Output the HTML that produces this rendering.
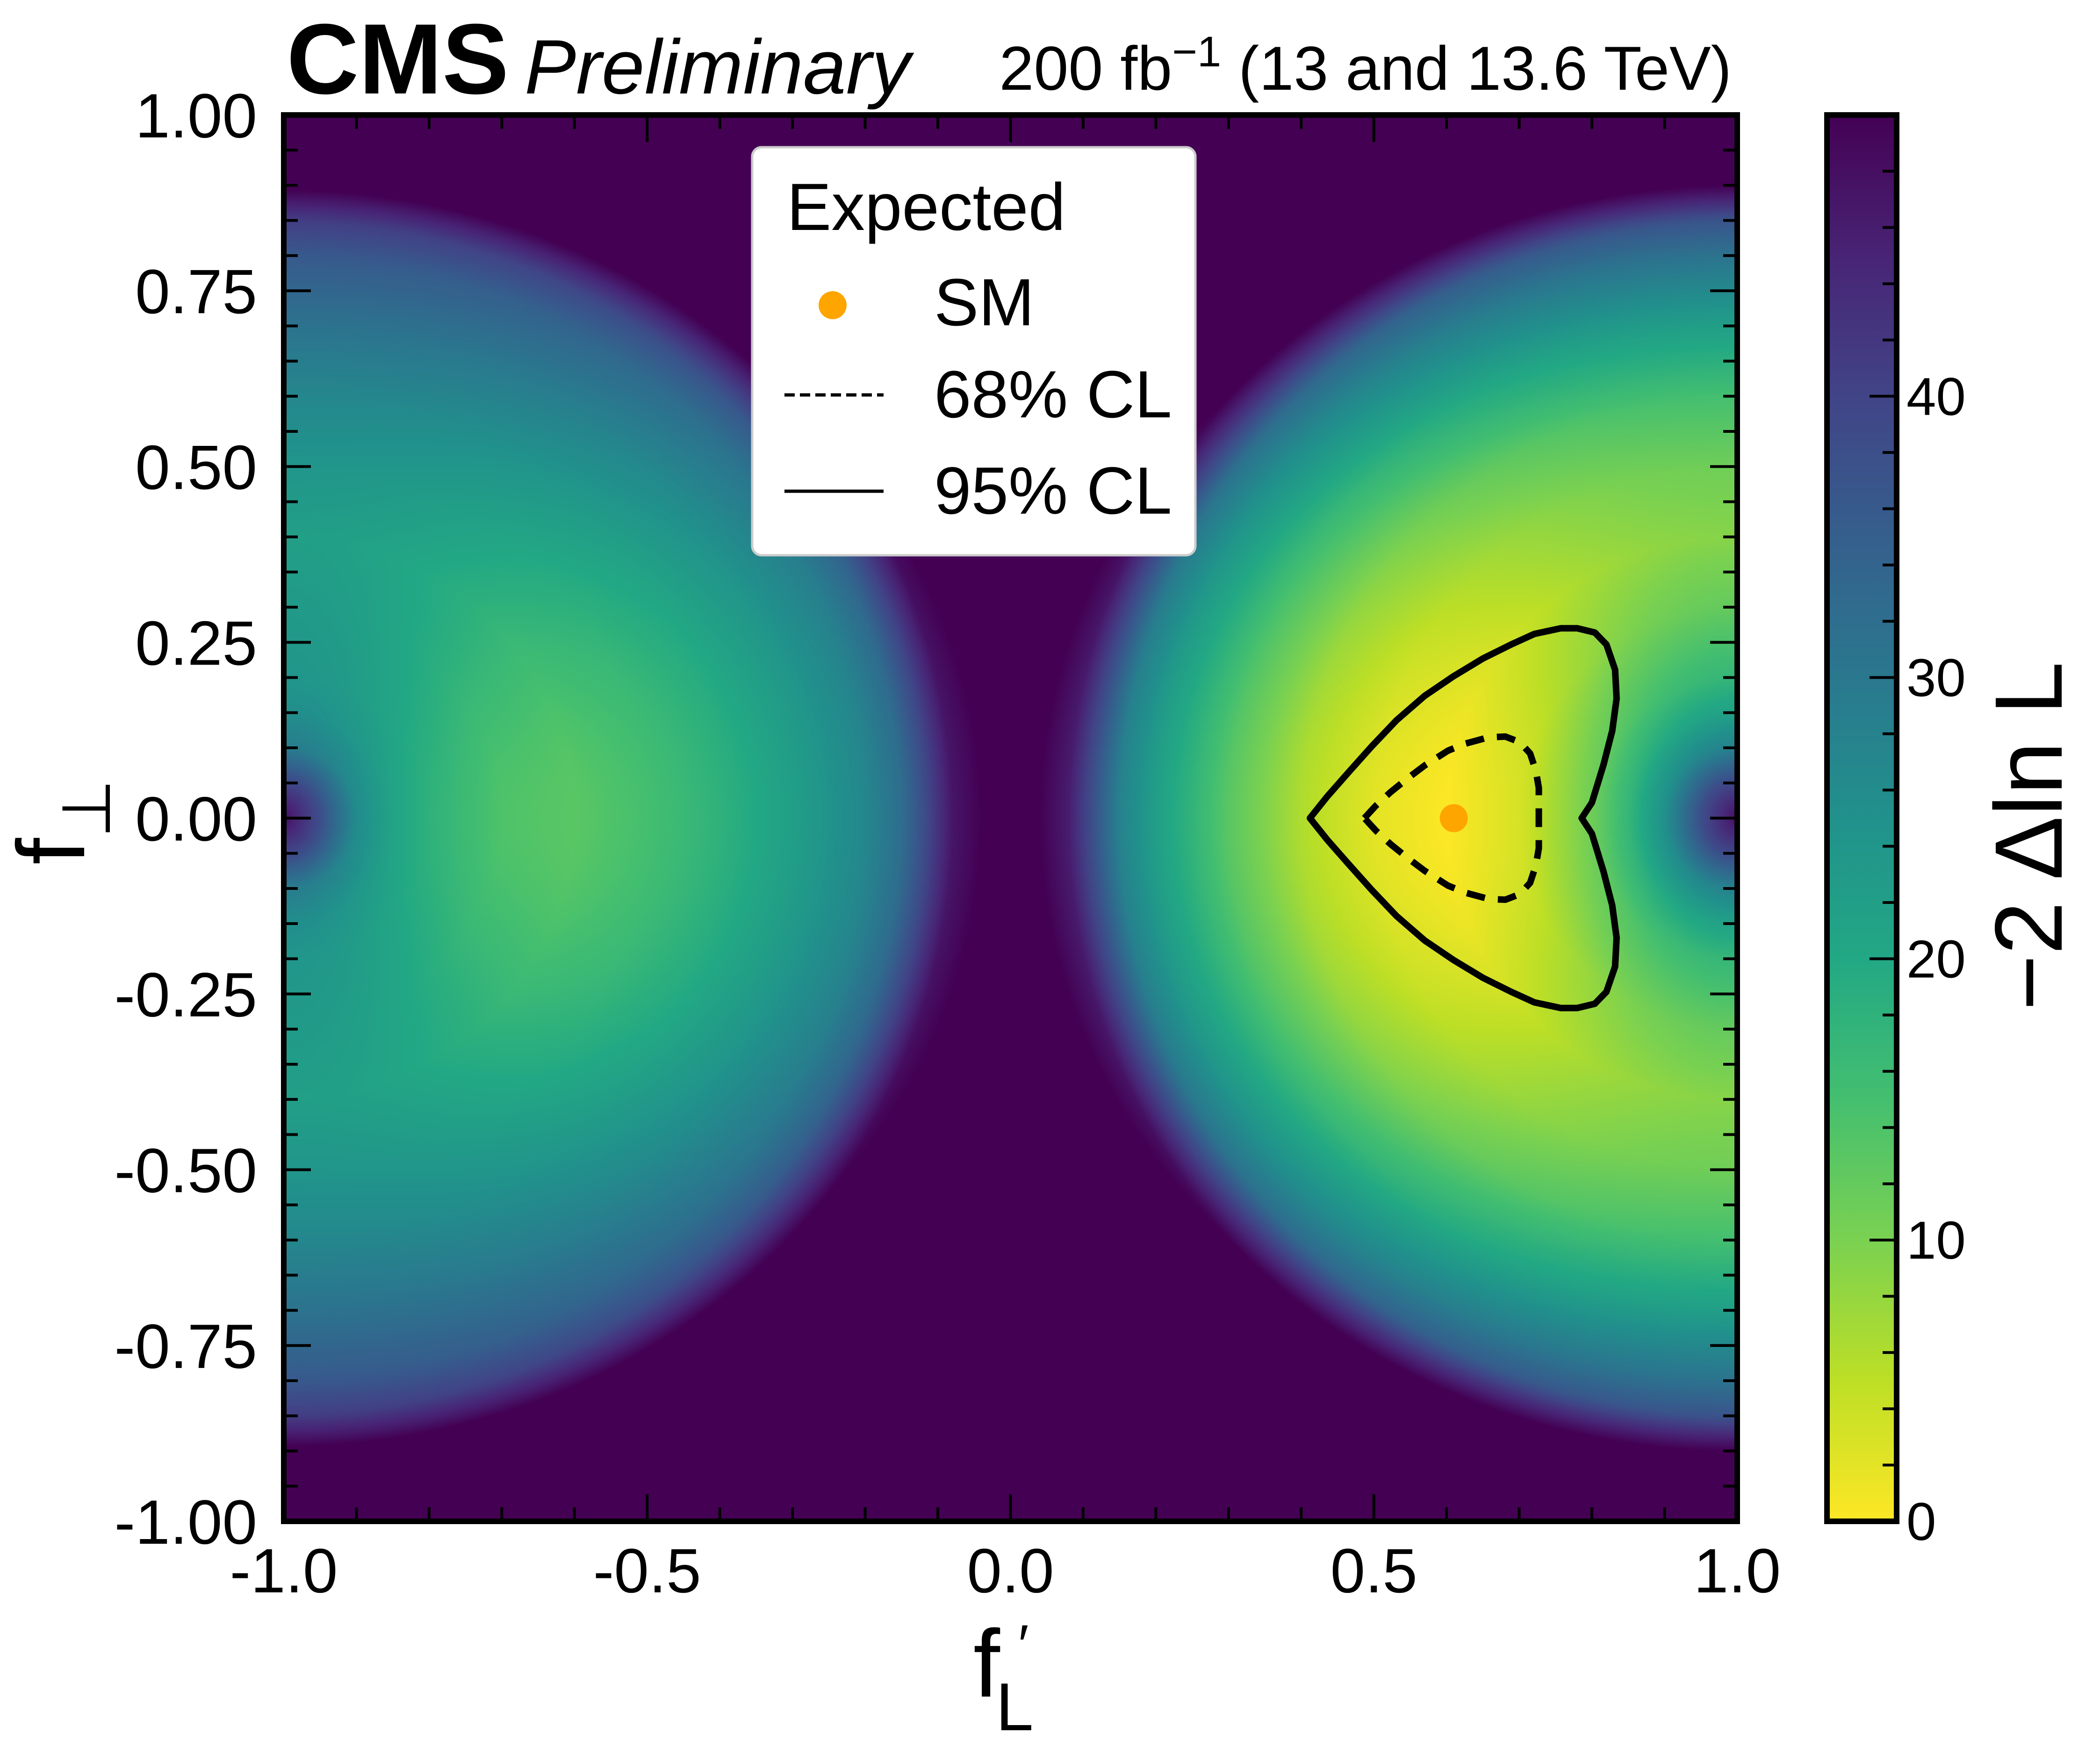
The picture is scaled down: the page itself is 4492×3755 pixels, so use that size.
<!DOCTYPE html>
<html><head><meta charset="utf-8"><style>
html,body{margin:0;padding:0;background:#fff;}
#wrap{position:relative;width:4492px;height:3755px;overflow:hidden;}
#heat{position:absolute;left:607px;top:246px;width:3109px;height:3009px;}
svg{position:absolute;left:0;top:0;}
text{font-family:"Liberation Sans",sans-serif;}
</style></head><body>
<div id="wrap">
<canvas id="heat" width="777" height="752"></canvas>
<svg id="svg" width="4492" height="3755" xmlns="http://www.w3.org/2000/svg">
<defs>
<linearGradient id="cbgrad" x1="0" y1="1" x2="0" y2="0">
<stop offset="0" stop-color="#fde725"/><stop offset="0.1" stop-color="#bddf26"/><stop offset="0.2" stop-color="#7ad151"/><stop offset="0.3" stop-color="#44bf70"/><stop offset="0.4" stop-color="#22a884"/><stop offset="0.5" stop-color="#21918c"/><stop offset="0.6" stop-color="#2a788e"/><stop offset="0.7" stop-color="#355f8d"/><stop offset="0.8" stop-color="#414487"/><stop offset="0.9" stop-color="#482475"/><stop offset="1" stop-color="#440154"/>
</linearGradient>
</defs>
<g id="contours"></g>
<g id="axes"></g>
<rect x="3908" y="246" width="149" height="3009" fill="url(#cbgrad)" stroke="#000" stroke-width="12"/>
<g id="cbaxis"></g>
<text x="613" y="200" font-size="214" font-weight="bold">CMS</text>
<text x="1122" y="200" font-size="165" font-style="italic">Preliminary</text>
<text x="3704" y="192" font-size="133" text-anchor="end">200 fb<tspan dy="-50" font-size="92">−1</tspan><tspan dy="50"> (13 and 13.6 TeV)</tspan></text>
<g>
<text x="2082" y="3630" font-size="205">f</text>
<text x="2178" y="3560" font-size="120">′</text>
<text x="2130" y="3702" font-size="145">L</text>
</g>
<text transform="translate(180,1850) rotate(-90)" font-size="205">f<tspan dy="55" font-size="145">⊥</tspan></text>
<text transform="translate(4410,1789) rotate(-90)" font-size="205" text-anchor="middle">−2 Δln L</text>
<g>
<rect x="1609" y="315" width="948" height="873" rx="20" fill="#fff" stroke="#cccccc" stroke-width="5"/>
<text x="1683" y="492" font-size="143">Expected</text>
<circle cx="1781" cy="653" r="30" fill="#ffa500"/>
<text x="1998" y="696" font-size="143">SM</text>
<line x1="1678" y1="845" x2="1890" y2="845" stroke="#000" stroke-width="7" stroke-dasharray="22,11"/>
<text x="1998" y="893" font-size="143">68% CL</text>
<line x1="1678" y1="1051" x2="1890" y2="1051" stroke="#000" stroke-width="7"/>
<text x="1998" y="1099" font-size="143">95% CL</text>
</g>
</svg>
</div>
<script>
// ---- data ----
const radii = [0,0.05,0.1,0.15,0.2,0.3,0.4,0.5,0.6,0.7,0.8,0.85,0.88,0.92,0.96];
const rightProfile = [48,38,25,17,11,3,0,2,6,13,22,28,36,46,50];
const leftProfile = [48,38,26,21,18,14,13,15,18,22,27,32,38,47,50];
const angularBoost = [9];
const cl95X = [0.412,0.436,0.465,0.497,0.531,0.570,0.610,0.650,0.689,0.721,0.757,0.780,0.804,0.820,0.832,0.834,0.828,0.816,0.800,0.786];
const cl95Y = [0,0.031,0.065,0.102,0.139,0.174,0.202,0.227,0.247,0.262,0.270,0.270,0.264,0.247,0.211,0.170,0.124,0.076,0.022,0];
const cl68X = [0.487,0.503,0.523,0.547,0.570,0.602,0.626,0.658,0.681,0.701,0.715,0.723,0.727,0.727];
const cl68Y = [0,0.018,0.037,0.057,0.075,0.096,0.106,0.115,0.116,0.108,0.092,0.067,0.043,0];
const smPoint = [0.61, 0.0];
const xTicks = [-1.0,-0.5,0.0,0.5,1.0];
const xTickLabels = ["-1.0","-0.5","0.0","0.5","1.0"];
const yTicks = [1.0,0.75,0.5,0.25,0,-0.25,-0.5,-0.75,-1.0];
const yTickLabels = ["1.00","0.75","0.50","0.25","0.00","-0.25","-0.50","-0.75","-1.00"];
const cbTicks = [0,10,20,30,40];
const cbTickLabels = ["0","10","20","30","40"];
const zMax = 50;

// ---- axes ----
const L=607,R=3716,T=246,B=3255;
const sx = v => L + (v+1)/2*(R-L);
const sy = v => T + (1-v)/2*(B-T);
const cbY = v => B - v/zMax*(B-T);
const NS="http://www.w3.org/2000/svg";
function mk(tag, attrs, parent){const e=document.createElementNS(NS,tag);for(const k in attrs)e.setAttribute(k,attrs[k]);parent.appendChild(e);return e;}

// heatmap
const vir=[[68,1,84],[72,36,117],[65,68,135],[53,95,141],[42,120,142],[33,145,140],[34,168,132],[68,191,112],[122,209,81],[189,223,38],[253,231,37]];
function cmap(v){let t=1-Math.max(0,Math.min(zMax,v))/zMax;let p=t*10,i=Math.min(9,Math.floor(p)),f=p-i;const a=vir[i],b=vir[i+1];return [a[0]+(b[0]-a[0])*f,a[1]+(b[1]-a[1])*f,a[2]+(b[2]-a[2])*f];}
function interp(xs,ys,x){if(x<=xs[0])return ys[0];for(let i=1;i<xs.length;i++){if(x<=xs[i]){const f=(x-xs[i-1])/(xs[i]-xs[i-1]);return ys[i-1]+(ys[i]-ys[i-1])*f;}}return ys[ys.length-1];}
function value(x,y){
  const right = x>=-0.03;
  const cx = right?1:-1;
  const dx=x-cx, r=Math.sqrt(dx*dx+y*y);
  const s2 = r>0? (y*y)/(r*r):0;
  return interp(radii, right?rightProfile:leftProfile, r) + angularBoost[0]*s2*Math.min(1,r/0.3);
}
const cv=document.getElementById('heat'),ctx=cv.getContext('2d');
const W=cv.width,H=cv.height,img=ctx.createImageData(W,H);
for(let j=0;j<H;j++){const y=1-(j+0.5)/H*2;for(let i=0;i<W;i++){const x=-1+(i+0.5)/W*2;const c=cmap(value(x,y));const k=(j*W+i)*4;img.data[k]=c[0];img.data[k+1]=c[1];img.data[k+2]=c[2];img.data[k+3]=255;}}
ctx.putImageData(img,0,0);

// contours
const cg=document.getElementById('contours');
function closedPath(xs,ys){let pts=[];for(let i=0;i<xs.length;i++)pts.push([xs[i],ys[i]]);for(let i=xs.length-2;i>0;i--)pts.push([xs[i],-ys[i]]);return 'M'+pts.map(p=>sx(p[0]).toFixed(1)+','+sy(p[1]).toFixed(1)).join('L')+'Z';}
const c95=mk('path',{d:closedPath(cl95X,cl95Y),fill:'none',stroke:'#000','stroke-width':14,'stroke-linejoin':'round'},cg);


const c68=mk('path',{d:closedPath(cl68X,cl68Y),fill:'none',stroke:'#000','stroke-width':14,'stroke-dasharray':'40,28'},cg);


const sm=mk('circle',{cx:sx(smPoint[0]),cy:sy(smPoint[1]),r:30,fill:'#ffa500'},cg);



// axes frame & ticks
const ag=document.getElementById('axes');
const frame=mk('rect',{x:L,y:T,width:R-L,height:B-T,fill:'none',stroke:'#000','stroke-width':12},ag);


for(let k=-10;k<=10;k++){const v=k/10;const major=(k%5===0);const len=major?58:30;const X=sx(v);
  mk('line',{x1:X,y1:B,x2:X,y2:B-len,stroke:'#000','stroke-width':6},ag);
  mk('line',{x1:X,y1:T,x2:X,y2:T+len,stroke:'#000','stroke-width':6},ag);}
for(let k=-20;k<=20;k++){const v=k/20;const major=(k%5===0);const len=major?58:30;const Y=sy(v);
  mk('line',{x1:L,y1:Y,x2:L+len,y2:Y,stroke:'#000','stroke-width':6},ag);
  mk('line',{x1:R,y1:Y,x2:R-len,y2:Y,stroke:'#000','stroke-width':6},ag);}
xTicks.forEach((v,i)=>{const t=mk('text',{x:sx(v),y:3407,'font-size':134,'text-anchor':'middle'},ag);t.textContent=xTickLabels[i];
  
  });
yTicks.forEach((v,i)=>{const t=mk('text',{x:550,y:sy(v)+48,'font-size':134,'text-anchor':'end'},ag);t.textContent=yTickLabels[i];
  
  });
// colorbar ticks
const cbg=document.getElementById('cbaxis');
for(let v=0;v<zMax;v+=2){const major=(v%10===0);const Y=cbY(v);mk('line',{x1:4057,y1:Y,x2:4057-(major?58:30),y2:Y,stroke:'#000','stroke-width':6},cbg);}
cbTicks.forEach((v,i)=>{const t=mk('text',{x:4078,y:cbY(v)+40,'font-size':114},cbg);t.textContent=cbTickLabels[i];
  
  });
</script>
</body></html>
